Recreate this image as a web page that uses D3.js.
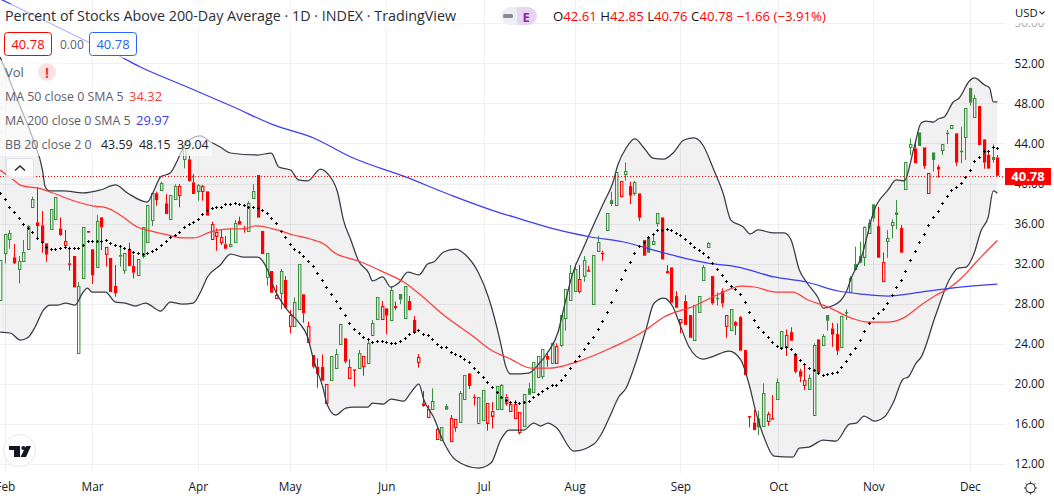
<!DOCTYPE html>
<html>
<head>
<meta charset="utf-8">
<script src="https://cdn.jsdelivr.net/npm/d3@7/dist/d3.min.js"></script>
<style>
html,body{margin:0;padding:0;background:#fff;overflow:hidden}
svg{display:block}
text{font-family:"Open Sans",sans-serif}
</style>
</head>
<body>
<svg id="c" width="1054" height="501"></svg>
<script>
const opens=[
28.38,33.04,34.43,32.64,31.44,32.20,33.44,37.63,36.13,35.83,
34.04,35.43,36.43,35.53,33.84,32.04,32.77,23.06,30.51,35.27,
33.44,31.71,36.63,32.90,32.57,29.78,32.87,31.31,33.44,31.77,
30.87,32.77,34.20,36.30,39.03,39.29,38.03,36.43,38.43,38.83,
42.42,42.42,40.12,39.29,39.22,39.22,34.43,34.80,34.10,33.94,
33.70,34.14,36.26,35.60,35.23,38.59,40.85,35.27,30.64,31.27,
28.51,29.05,30.38,25.75,25.79,27.48,28.95,24.16,22.89,21.73,
21.70,18.04,20.40,21.53,23.99,24.56,20.56,21.46,21.56,21.73,
22.06,24.82,26.45,26.45,27.55,26.35,27.78,28.98,26.62,28.28,
26.39,22.16,18.07,16.67,17.47,14.54,14.38,17.80,14.28,15.64,
16.17,18.47,21.06,18.73,16.04,16.41,16.17,16.87,17.47,17.47,
18.17,17.27,16.54,15.18,15.74,19.57,19.17,20.66,20.80,22.79,
22.06,22.16,23.89,26.55,28.31,29.21,29.24,30.80,31.37,27.94,
33.30,33.10,35.29,38.35,37.82,38.75,40.88,39.75,39.09,39.02,
34.36,34.59,33.90,36.09,36.62,31.27,31.63,28.77,26.14,28.27,
26.88,24.45,27.14,30.40,33.63,30.77,28.61,29.27,25.71,25.38,
26.18,26.68,23.39,16.80,16.17,16.57,15.73,16.23,16.60,18.43,
23.65,23.62,25.18,22.99,21.29,19.86,19.46,16.83,24.45,23.85,
26.88,25.55,24.98,23.62,27.18,29.14,31.97,32.77,32.70,35.03,
37.93,35.76,30.27,34.20,35.80,37.13,35.56,39.52,43.58,43.51,
45.11,43.61,38.99,43.11,41.65,43.28,45.08,45.48,45.01,43.28,
44.58,49.54,46.57,47.74,44.41,42.85,42.65,42.61];
const highs=[
32.37,34.93,35.37,33.97,32.77,34.37,35.86,38.69,39.62,37.26,
34.04,37.43,38.63,36.63,35.37,33.70,32.77,30.17,35.63,35.27,
33.44,36.86,36.63,33.64,32.57,31.87,33.87,33.04,34.10,32.87,
32.44,35.63,37.86,39.03,39.19,40.19,38.96,38.83,39.92,39.96,
44.02,42.75,40.95,39.96,39.86,39.22,36.20,35.53,35.37,34.77,
35.53,36.36,36.70,35.76,38.26,39.96,40.85,35.27,33.04,31.27,
29.88,31.47,30.78,27.38,28.65,31.94,28.95,26.22,22.89,22.56,
22.96,19.97,22.76,23.49,25.95,24.56,22.46,21.46,23.39,22.76,
24.56,26.39,28.65,28.28,27.55,29.71,28.22,28.98,29.78,28.78,
26.78,22.99,19.30,17.90,19.57,15.67,15.67,18.00,16.91,16.47,
19.30,20.86,21.06,18.97,18.67,19.37,18.14,18.20,19.80,20.00,
19.00,18.30,18.40,17.17,18.97,20.13,22.16,22.76,23.46,23.23,
24.06,24.06,26.88,29.45,31.87,32.03,31.87,32.77,31.77,32.83,
34.79,33.30,37.02,39.19,41.12,40.28,42.11,40.18,40.28,39.02,
34.36,34.69,35.03,37.09,36.62,31.87,31.63,29.27,26.44,28.87,
26.88,27.91,28.74,31.87,34.16,30.77,29.14,29.54,26.84,27.44,
26.28,26.78,23.39,16.80,17.40,17.33,20.06,17.23,18.89,20.56,
25.25,25.45,25.65,22.99,21.52,22.06,20.96,24.05,24.45,24.98,
26.88,26.11,26.05,26.75,27.44,30.77,33.70,34.20,35.76,36.43,
37.93,37.69,33.13,35.36,36.43,38.36,35.86,42.18,44.51,44.35,
45.11,43.61,41.02,43.11,41.88,43.91,45.34,45.81,45.01,45.68,
47.51,49.54,48.84,47.74,44.41,43.35,43.91,42.85];
const lows=[
28.38,32.04,33.50,31.97,30.04,32.20,33.37,37.63,34.43,33.10,
32.20,35.43,36.43,34.77,33.70,31.31,29.64,23.06,30.51,35.10,
29.98,31.71,33.37,31.71,29.18,28.71,31.71,30.98,31.77,30.54,
30.87,32.54,34.20,35.76,37.79,39.29,36.96,36.43,38.43,37.63,
41.52,40.19,38.96,38.29,38.29,36.80,34.37,33.30,33.87,33.44,
33.64,34.14,35.90,35.10,35.23,38.59,36.60,32.97,29.81,29.11,
28.51,27.45,27.55,25.05,25.79,27.48,26.12,24.12,21.56,19.63,
20.33,18.04,20.40,21.53,23.99,22.06,20.56,19.73,21.56,20.83,
22.06,24.82,26.45,26.45,24.96,26.35,27.38,27.98,26.62,27.32,
25.12,21.63,17.74,16.67,17.47,14.54,14.38,17.44,14.28,15.24,
16.17,18.47,19.50,17.84,16.04,16.41,15.34,15.57,17.47,17.47,
17.84,17.27,16.54,14.98,15.74,18.93,19.17,20.66,20.50,21.73,
22.06,22.16,23.72,25.32,28.31,29.21,29.04,30.20,31.20,27.94,
33.30,32.30,35.29,37.75,37.82,38.62,40.28,37.95,38.79,36.26,
32.80,33.10,33.90,35.69,32.43,31.04,28.11,27.61,25.05,25.91,
24.61,24.45,27.14,30.40,33.63,27.91,27.81,27.64,24.61,25.38,
24.88,23.32,20.89,15.67,15.40,14.90,15.73,15.83,16.53,18.43,
23.65,22.79,24.32,21.06,20.19,19.39,19.46,16.83,21.12,23.85,
25.32,23.72,22.89,23.62,26.38,29.14,31.37,32.04,31.77,35.03,
36.20,32.60,30.27,32.60,34.53,35.46,33.10,39.52,42.85,42.02,
43.75,41.48,38.99,41.19,40.59,42.85,43.95,45.48,41.75,42.02,
42.35,47.77,46.57,43.85,41.48,41.49,42.08,40.76];
const closes=[
32.37,34.93,35.03,32.04,32.27,33.14,35.76,38.46,35.76,34.10,
32.90,37.43,38.63,34.87,34.23,31.91,29.64,29.77,35.63,35.10,
30.84,36.26,35.63,33.64,29.18,29.05,32.70,33.04,31.77,31.11,
32.44,35.63,37.86,39.03,38.36,40.02,36.96,38.83,39.76,39.76,
43.52,40.26,38.96,39.86,39.72,36.80,35.93,35.20,34.63,33.50,
33.94,36.03,35.90,35.53,38.03,39.29,36.60,32.97,33.04,29.11,
28.85,31.27,27.61,26.85,28.15,31.94,27.05,25.75,21.73,21.00,
20.33,19.97,22.76,22.96,25.95,22.23,21.66,21.36,23.06,22.76,
24.06,26.05,28.65,27.78,26.82,29.35,27.58,28.42,29.78,27.38,
25.12,22.66,17.80,17.47,18.27,15.51,15.67,17.44,16.57,16.47,
19.07,20.86,19.80,18.60,18.67,19.37,18.14,17.34,19.80,19.87,
18.73,18.00,17.97,17.17,18.97,18.93,22.16,22.76,23.46,22.43,
24.06,23.82,26.88,29.45,31.04,31.43,30.44,32.37,31.20,32.83,
34.16,33.03,37.02,37.95,41.12,40.28,41.21,38.79,40.15,36.59,
32.80,33.10,34.23,37.09,32.43,31.04,28.11,27.61,26.44,25.91,
24.61,27.91,28.74,31.67,34.03,28.04,28.54,28.04,26.84,27.44,
25.81,23.32,20.89,16.73,15.40,15.67,19.06,16.97,16.53,20.16,
25.25,24.85,24.32,21.22,20.72,20.36,20.56,23.85,21.12,24.78,
26.31,24.92,23.32,26.75,27.11,30.54,31.37,32.10,35.70,36.03,
36.53,32.60,32.20,34.53,36.13,36.86,33.10,42.18,43.91,42.02,
43.75,41.75,41.02,42.35,41.39,43.91,44.94,45.81,42.08,43.21,
47.51,48.07,48.50,43.85,42.08,41.49,42.35,40.78];
const candleColors=("gggrggggrr"+"rggrrrrggr"+"rgrrrrggrr"+"ggggrgrggr"+"grrgrrrrrr"+"ggrrggrrgr"+"rgrrggrrrr"+"rrgggrrrgr"+"gggrrgrggr"+"rrrrgrggrr"+"ggrrggrrgg"+"rrrrgggggr"+"grggggrgrg"+"grgggrgrgr"+"rgggrrrrrr"+"rggggrgrrg"+"rrrrrggrrg"+"grrrrrggrg"+"grrggggggg"+"grrgggrggr"+"grrgrgggrg"+"gggrrrgr").split("");
const bbBasis=[
39.03,38.43,37.69,37.13,36.53,35.93,35.53,35.13,34.60,34.17,
33.70,33.44,33.47,33.54,33.64,33.54,33.54,33.54,33.87,34.23,
34.23,34.23,34.23,34.33,34.10,33.90,33.80,33.54,33.47,33.20,
33.10,32.97,33.04,33.24,33.47,33.84,34.27,34.63,34.83,35.17,
35.63,35.96,36.20,36.43,36.96,37.36,37.53,37.63,37.69,37.93,
37.96,38.03,37.93,37.86,37.69,37.63,37.53,37.33,37.03,36.56,
36.03,35.27,34.70,34.00,33.44,33.20,32.77,32.31,31.78,31.04,
30.34,29.65,28.95,28.25,27.62,26.85,26.05,25.49,25.06,24.72,
24.49,24.16,24.26,24.26,24.19,24.09,24.06,24.29,24.62,24.96,
25.22,25.36,24.99,24.86,24.49,24.02,23.72,23.69,23.23,22.99,
22.79,22.49,22.16,21.60,21.16,20.70,20.23,19.70,19.20,18.73,
18.40,18.17,18.17,18.14,18.17,18.34,18.73,18.97,19.27,19.60,
19.90,19.93,20.37,20.90,21.56,22.25,22.75,23.45,24.05,24.65,
25.45,26.25,27.14,28.21,29.34,30.44,31.33,32.13,33.03,33.73,
34.20,34.63,34.93,35.36,35.36,35.46,35.36,35.06,34.86,34.49,
34.03,33.70,33.33,33.06,32.63,32.03,31.47,30.84,30.24,29.74,
29.44,28.97,28.21,27.21,26.34,25.71,25.18,24.65,24.18,23.82,
23.62,23.72,23.45,22.99,22.36,21.96,21.56,21.36,21.06,20.86,
20.96,21.06,21.16,21.66,22.25,22.95,23.55,24.35,25.28,26.05,
26.61,27.05,27.44,28.04,28.84,29.71,30.37,31.27,32.37,33.23,
34.13,34.93,35.83,36.63,37.29,38.02,38.76,39.32,39.69,40.05,
40.65,41.35,42.25,42.65,43.21,43.25,43.61,43.59];
const bbUpper=[[0,52.63],[4.4,47.64],[7.2,44.35],[9.2,41.35],[9.8,39.66],[10.9,39.26],[13.7,39.26],[18.1,39.06],[21.8,39.36],[25.1,39.86],[27.7,39.06],[32,38.16],[33.3,39.16],[34.9,40.66],[37,41.05],[38.6,42.35],[39.9,43.65],[41.8,44.55],[43.6,44.75],[45.8,44.15],[47.9,43.65],[50.1,43.05],[56,42.85],[59,43.05],[60.6,41.65],[63.2,41.35],[64.9,40.36],[66.9,40.26],[69.7,41.45],[71.5,40.86],[73.4,39.16],[74.7,36.36],[76.3,34.37],[78,32.27],[80.2,31.07],[81,30.28],[83.2,30.68],[85,29.68],[86.7,30.08],[88.7,31.17],[91.1,30.88],[93,31.97],[94.3,32.17],[96.5,33.17],[99.1,33.47],[101.3,32.87],[104.1,31.07],[106.3,28.58],[108.9,24.09],[110,21.79],[111.1,21],[115,21.09],[117,21.89],[119.2,23.19],[121.4,25.19],[122.7,27.68],[124.6,31.07],[127,33.67],[130.1,36.86],[131.4,38.16],[133.3,40.06],[134.4,41.85],[136.2,43.55],[138.1,44.45],[140.1,43.55],[142,42.55],[144.4,42.45],[146.4,43.05],[148.8,44.35],[151,44.55],[152.9,43.85],[155.3,41.35],[157.3,39.06],[159,36.36],[161.7,35.67],[163.2,34.97],[164.9,35.37],[168.4,35.07],[170.6,35.07],[172.1,34.37],[173.9,31.37],[175.6,30.08],[178,28.58],[179.1,27.58],[181.5,27.88],[184.1,29.18],[185.2,30.58],[187.4,32.67],[190.2,37.36],[193.2,39.36],[195,40.36],[196.7,40.26],[198.9,43.65],[200.4,46.05],[201.5,46.24],[203.1,46.14],[204.1,46.44],[205.4,46.64],[207.4,48.14],[208.7,48.54],[210.9,50.24],[212,50.54],[214.2,49.84],[215.3,49.54],[216.1,48.14],[217,48.15]];
const bbLower=[[0,25.19],[2.2,25.09],[4.4,24.39],[5.9,24.59],[7.6,25.69],[9.4,27.38],[10.9,27.88],[12.6,27.88],[14.2,28.08],[16.3,27.88],[17.9,29.08],[19,29.58],[20,29.18],[22.9,29.18],[25.1,28.18],[27.2,28.08],[29.4,27.78],[31.6,28.08],[34.9,27.28],[37,28.18],[39.7,27.98],[42,28.08],[43.6,29.18],[45.1,30.68],[47.9,31.87],[50.1,32.97],[52.9,32.67],[56,32.67],[58.2,31.37],[59.5,29.68],[62.5,27.38],[64.9,26.18],[66.9,24.69],[68.2,22.39],[70.2,19.7],[71.2,17.9],[73,16.9],[75.2,17.6],[76.9,17.7],[80,17.7],[81,18.1],[83.4,18],[85,18.5],[87.8,18.3],[89.3,19.1],[91.1,20],[92.2,18.4],[94.3,16.7],[96.5,14.21],[99.1,12.41],[104.1,11.61],[106.8,12.11],[108.9,14.41],[110.7,15.41],[113.9,15.41],[116.1,16.1],[117.6,15.81],[119.2,16.1],[121.1,15.61],[124.8,13.31],[129.2,14.01],[130.7,14.91],[132.5,16.6],[134.6,18.7],[136.2,19.6],[137.9,21.59],[140.5,25.39],[142.3,28.08],[144.4,28.58],[146.4,27.68],[148.1,25.69],[149.9,23.69],[152.9,22.49],[154.7,22.69],[158.6,23.29],[161.2,22.39],[163,19.9],[164.5,17.1],[166.2,14.71],[168.4,12.81],[172.5,12.71],[173.9,13.61],[176,13.71],[179.1,14.41],[181.9,14.31],[184.8,16],[186.3,16.1],[188,16.8],[190.2,16.3],[192.4,16.7],[194.3,18.1],[196.5,20.5],[197.6,20.7],[199.3,22.09],[200.4,22.69],[203.5,26.78],[206.5,30.38],[208.5,31.57],[210.2,31.67],[211.8,32.87],[213.5,35.37],[215,36.66],[216.1,39.26],[217,39.04]];
const sma50=[[0,41.35],[2.6,40.46],[4.8,39.76],[8.1,39.56],[10.9,39.16],[13.7,38.66],[16.8,38.16],[20.3,37.76],[23.3,37.56],[26.1,36.86],[29.8,35.67],[32.7,35.27],[36.4,34.87],[39.9,34.57],[42,34.57],[45.8,35.17],[50.1,35.47],[52.9,35.47],[55.6,35.77],[60.3,35.37],[63.8,34.87],[67.5,34.47],[70.8,33.87],[72.5,33.17],[78,32.27],[83.4,31.17],[87.8,30.18],[91.5,28.88],[96.5,26.88],[103.1,24.69],[106.8,23.39],[111.1,22.49],[115.5,21.59],[119.8,21.59],[125.3,22.19],[132.9,23.59],[140.5,25.39],[144.4,26.68],[151,27.78],[156.9,29.08],[161.2,29.78],[164.1,29.68],[168.8,29.18],[172.5,29.18],[175.8,28.38],[180.2,27.68],[185.2,26.58],[188.9,26.18],[193.2,26.18],[196.5,26.58],[200.4,27.88],[203.7,28.88],[206.5,29.58],[209.2,30.58],[212.4,32.17],[217,34.32]];
const sma200=[[0,58.42],[9.4,56.32],[19.6,54.03],[25.5,52.83],[30.5,51.63],[40.7,49.64],[50.8,47.64],[59.5,45.85],[68.2,44.55],[76.3,42.65],[88.2,40.66],[98,38.86],[108.9,37.06],[113.3,36.46],[120.5,35.47],[128.5,34.67],[135.7,34.17],[143.8,33.17],[148.8,32.57],[154,32.07],[160.6,31.67],[168.4,30.68],[175.4,30.18],[182.4,29.28],[187.4,28.98],[193.2,28.78],[200.4,29.18],[207,29.58],[217,29.97]];
const priceTicks=[56,52,48,44,40,36,32,28,24,20,16,12];
const monthIndex=[1,20,43,63,84,105.2,125,148,169.3,190,211];
const monthLabels=["Feb","Mar","Apr","May","Jun","Jul","Aug","Sep","Oct","Nov","Dec"];
const lastClose=closes[closes.length-1];

const svg=d3.select("#c");
const x=d3.scaleLinear().domain([0,217]).range([0.2,997.4]);
const y=d3.scaleLinear().domain([12,52]).range([464.2,63.3]);
const GRID="#f0f0f0",RED="#ff0000",GREEN="#388e3c",TXT="#131722",LEG="#5d606b";
const paneR=1005,paneB=473;

// grid
const grid=svg.append("g");
grid.selectAll("line.h").data(priceTicks).join("line")
  .attr("x1",0).attr("x2",paneR)
  .attr("y1",d=>Math.round(y(d))+.5).attr("y2",d=>Math.round(y(d))+.5)
  .attr("stroke",GRID);
grid.selectAll("line.v").data(monthIndex).join("line")
  .attr("x1",d=>Math.round(x(d))+.5).attr("x2",d=>Math.round(x(d))+.5)
  .attr("y1",0).attr("y2",paneB).attr("stroke",GRID);

// bollinger band fill
const ln=d3.line().x(d=>x(d[0])).y(d=>y(d[1]));
svg.append("path").attr("d",ln(bbUpper.concat(bbLower.slice().reverse()))+"Z")
  .attr("fill","#000").attr("fill-opacity",.055);

// candles
const candles=svg.append("g").selectAll("g").data(opens.map((o,i)=>({i,o,h:highs[i],l:lows[i],c:closes[i],col:candleColors[i]==="g"?GREEN:RED}))).join("g");
candles.each(function(d){
  const g=d3.select(this),cx=Math.round(x(d.i))+.5;
  const top=y(Math.max(d.o,d.c)),bot=y(Math.min(d.o,d.c));
  g.append("line").attr("x1",cx).attr("x2",cx).attr("y1",y(d.h)).attr("y2",top).attr("stroke",d.col);
  g.append("line").attr("x1",cx).attr("x2",cx).attr("y1",bot).attr("y2",y(d.l)).attr("stroke",d.col);
  if(d.c>d.o){
    g.append("rect").attr("x",cx-1).attr("y",Math.round(top)+.5).attr("width",2.4)
      .attr("height",Math.max(1,Math.round(bot-top))).attr("fill","none").attr("stroke",d.col).attr("stroke-width",1.05);
  }else{
    g.append("rect").attr("x",cx-1.5).attr("y",top).attr("width",3.2)
      .attr("height",Math.max(1.5,bot-top)).attr("fill",d.col);
  }
});

// band lines and moving averages
const curve=d3.line().x(d=>x(d[0])).y(d=>y(d[1])).curve(d3.curveMonotoneX);
[[bbUpper,"#363a45",1.25],[bbLower,"#363a45",1.25],[sma50,"#ff3b3b",1.25],[sma200,"#3c3cf5",1.25]].forEach(([s,c,w])=>{
  svg.append("path").attr("d",curve(s)).attr("fill","none").attr("stroke",c).attr("stroke-width",w);
});

// basis marks
svg.append("path").attr("d",bbBasis.map((v,i)=>{
  const px=Math.round(x(i))+.5,py=Math.round(y(v))+.5;
  return `M${px-1.5},${py}h3M${px},${py-1.5}v3`;
}).join("")).attr("stroke","#000").attr("stroke-width",1).attr("fill","none");

// last price line
const lastY=Math.round(y(lastClose))+.5;
svg.append("line").attr("x1",0).attr("x2",paneR).attr("y1",lastY).attr("y2",lastY)
  .attr("stroke",RED).attr("stroke-dasharray","1 2");

// mask pane right side and price axis
svg.append("rect").attr("x",paneR).attr("y",0).attr("width",49).attr("height",501).attr("fill","#fff");
svg.append("rect").attr("x",0).attr("y",paneB).attr("width",paneR).attr("height",28).attr("fill","#fff");

// legend backing
const back=svg.append("g").attr("fill","#fff").attr("fill-opacity",.62);
[[0,4,462,26],[0,30,140,28],[0,60,62,24],[0,84,166,24],[0,108,172,24],[0,132,212,24]].forEach(r=>{
  back.append("rect").attr("x",r[0]).attr("y",r[1]).attr("width",r[2]).attr("height",r[3]).attr("rx",3);
});

// axes
const yAxis=d3.axisRight(y).tickValues(priceTicks).tickFormat(d3.format(".2f")).tickSize(0).tickPadding(0);
const yg=svg.append("g").attr("transform","translate(1014.5,0)").call(yAxis);
yg.select(".domain").remove();
yg.selectAll("text").attr("font-size",11.8).attr("font-family","'Open Sans',sans-serif")
  .attr("fill",d=>d===56?"#aaa":TXT);
svg.append("rect").attr("x",1006).attr("y",0).attr("width",48).attr("height",23).attr("fill","#fff");

const xAxis=d3.axisBottom(d3.scaleLinear().domain(x.domain()).range(x.range()))
  .tickValues(monthIndex).tickFormat((d,i)=>monthLabels[i]).tickSize(0).tickPadding(0);
const xg=svg.append("g").attr("transform","translate(0,483)").call(xAxis);
xg.select(".domain").remove();
xg.selectAll("text").attr("font-size",11.8).attr("font-family","'Open Sans',sans-serif").attr("fill",TXT);

// header text
const t=(s,px,py,fs,fill,extra)=>{const e=svg.append("text").attr("x",px).attr("y",py).attr("font-size",fs).attr("fill",fill).text(s);if(extra)extra(e);return e;};
t("Percent of Stocks Above 200-Day Average · 1D · INDEX · TradingView",5,21,14.3,"#2a2e39");
// badge
svg.append("path").attr("d","M517,7H510a9,9 0 0 0 0,18H517Z").attr("fill","#eceef2");
svg.append("path").attr("d","M517,7H528a9,9 0 0 1 0,18H517Z").attr("fill","#e8d5f2");
svg.append("rect").attr("x",503).attr("y",14).attr("width",10).attr("height",4).attr("rx",1.5).attr("fill","#888b94");
t("E",522.5,21.5,13,"#8e24aa").attr("font-weight",700);
// ohlc
const ohlc=svg.append("text").attr("x",553).attr("y",21).attr("font-size",13.2).attr("fill",RED);
[["O",TXT],["42.61",RED],[" H",TXT],["42.85",RED],[" L",TXT],["40.76",RED],[" C",TXT],["40.78",RED],[" −1.66 (−3.91%)",RED]].forEach(([s,c])=>{
  ohlc.append("tspan").attr("fill",c).attr("xml:space","preserve").text(s);
});
// price boxes
[[4.5,RED],[89.5,"#2962ff"]].forEach(([bx,c])=>{
  svg.append("rect").attr("x",bx).attr("y",32.5).attr("width",47).attr("height",23).attr("rx",3).attr("fill","#fff").attr("stroke",c);
  t("40.78",bx+23.5,49,13,c).attr("text-anchor","middle");
});
t("0.00",60,49,12,"#5d606b");
// legend rows
t("Vol",5,77,13,LEG);
svg.append("circle").attr("cx",47).attr("cy",72).attr("r",9).attr("fill","#fbe1e1");
t("!",47,77.5,14,"#e53935").attr("text-anchor","middle").attr("font-weight",700);
t("MA 50 close 0 SMA 5",5,101,12.4,LEG);
t("34.32",129,101,13,"#ff3b3b");
t("MA 200 close 0 SMA 5",5,125,12.4,LEG);
t("29.97",136,125,13,"#3c3cf5");
t("BB 20 close 2 0",5,149,12.4,LEG);
t("43.59",101,149,12.4,"#222");
t("48.15",139,149,12.4,"#222");
t("39.04",177,149,12.4,"#222");
svg.append("rect").attr("x",6.5).attr("y",158.5).attr("width",27).attr("height",20).attr("rx",3).attr("fill","#fff").attr("fill-opacity",.8).attr("stroke","#e0e3eb");
svg.append("path").attr("d","M15,170.5L20,166L25,170.5").attr("fill","none").attr("stroke","#222").attr("stroke-width",1.4);
// USD
t("USD",1015,17,11.3,TXT);
svg.append("path").attr("d","M1039.5,11.5L1042,14L1044.5,11.5").attr("fill","none").attr("stroke","#333").attr("stroke-width",1.1);
// last label
svg.append("rect").attr("x",1005).attr("y",168).attr("width",46).attr("height",17).attr("fill",RED);
t("40.78",1028,181,13,"#fff").attr("text-anchor","middle").attr("font-weight",700);
// TV logo
svg.append("circle").attr("cx",19.5).attr("cy",450.5).attr("r",16).attr("fill","#fff").attr("stroke","#e8e8e8");
svg.append("path").attr("d","M9,446H20V457H14V450H9ZM26,446H31L26,457H20.5Z").attr("fill","#131722");
svg.append("circle").attr("cx",23.3).attr("cy",448).attr("r",2).attr("fill","#131722");
// gear
const gear=svg.append("g").attr("transform","translate(1030.5,488)");
gear.append("circle").attr("r",4.6).attr("fill","none").attr("stroke","#333").attr("stroke-width",1.1);
d3.range(8).forEach(k=>{const a=k*Math.PI/4;gear.append("line").attr("x1",4.6*Math.cos(a)).attr("y1",4.6*Math.sin(a)).attr("x2",6.6*Math.cos(a)).attr("y2",6.6*Math.sin(a)).attr("stroke","#333").attr("stroke-width",1);});
</script>
</body>
</html>
